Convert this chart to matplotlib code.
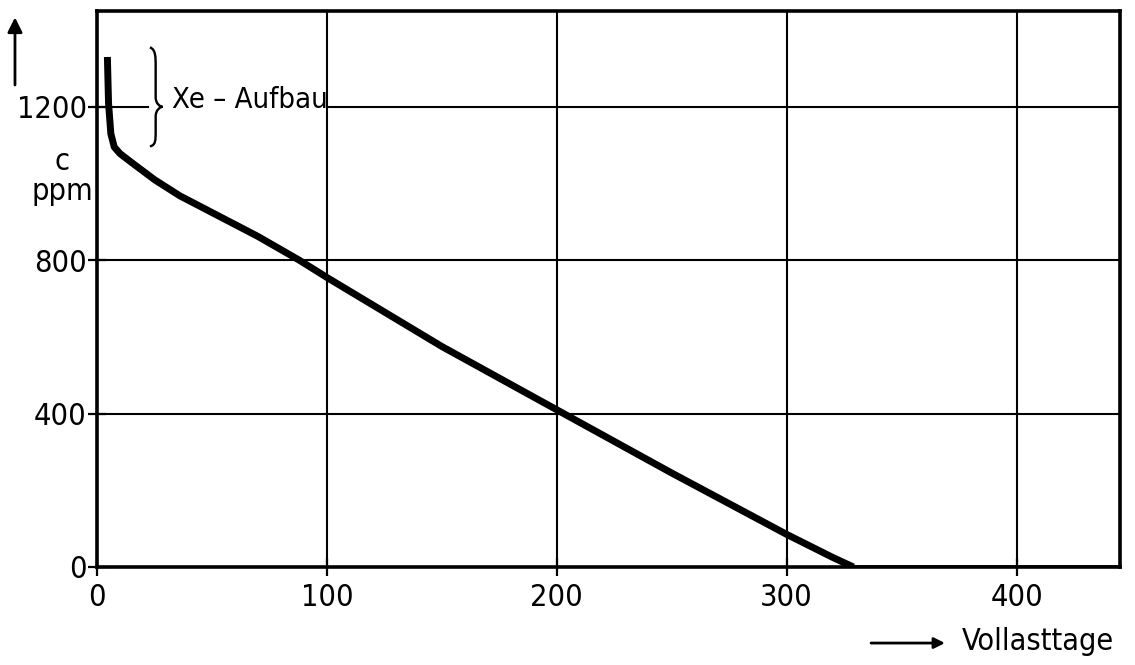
import matplotlib
matplotlib.use("Agg")
import matplotlib.pyplot as plt
from matplotlib.path import Path
from matplotlib.patches import PathPatch, FancyArrowPatch

# Boron concentration over full-load days
days = [4.5, 5, 6, 7.5, 10, 15, 25, 36, 53, 70, 88, 100, 150, 203, 250, 300, 320, 329]
conc = [1330, 1210, 1130, 1095, 1078, 1055, 1010, 968, 915, 862, 800, 755, 575, 400, 245, 85, 25, 0]

x_ticks = [0, 100, 200, 300, 400]
y_ticks = [0, 400, 800, 1200]
x_max, y_max = 445, 1450

plt.rcParams["font.family"] = ["DejaVu Sans"]
plt.rcParams["font.stretch"] = "condensed"
FS = 22

fig = plt.figure(figsize=(11.35, 6.65), dpi=100)
ax = fig.add_axes([0.0855, 0.1474, 0.9013, 0.8361])
ax.set_xlim(0, x_max)
ax.set_ylim(0, y_max)

for s in ax.spines.values():
    s.set_linewidth(2.6)
    s.set_color("black")

# grid lines; the 1200 line is interrupted by the annotation
for xv in x_ticks[1:]:
    ax.axvline(xv, color="black", lw=1.5, zorder=1)
for yv in y_ticks[1:]:
    if yv == 1200:
        ax.plot([0, 22], [yv, yv], color="black", lw=1.5, zorder=1)
        ax.plot([101, x_max], [yv, yv], color="black", lw=1.5, zorder=1)
    else:
        ax.axhline(yv, color="black", lw=1.5, zorder=1)

ax.plot(days, conc, color="black", lw=5, solid_capstyle="butt",
        solid_joinstyle="round", zorder=3)
ax.plot([days[-1], x_max], [0, 0], color="black", lw=2.6, zorder=3)

ax.set_xticks(x_ticks)
ax.set_yticks(y_ticks)
ax.tick_params(direction="inout", length=13, width=1.6, labelsize=FS, pad=1)
ax.tick_params(axis="x", pad=5)
for lab in ax.get_xticklabels() + ax.get_yticklabels():
    lab.set_fontstretch("condensed")

# curly brace marking the xenon build-up
xl, xm, xr = 23.0, 25.5, 28.5
yt, yc, yb = 1355, 1200, 1097
verts = [
    (xl, yt), (xm, yt - 5), (xm, yt - 25), (xm, yt - 50),
    (xm, yc + 25),
    (xm, yc + 8), (xr - 1, yc), (xr, yc),
    (xr - 1, yc), (xm, yc - 8), (xm, yc - 25),
    (xm, yb + 40),
    (xm, yb + 15), (xm, yb + 3), (xl, yb),
]
codes = [Path.MOVETO, Path.CURVE4, Path.CURVE4, Path.CURVE4,
         Path.LINETO,
         Path.CURVE4, Path.CURVE4, Path.CURVE4,
         Path.CURVE4, Path.CURVE4, Path.CURVE4,
         Path.LINETO,
         Path.CURVE4, Path.CURVE4, Path.CURVE4]
ax.add_patch(PathPatch(Path(verts, codes), fill=False, lw=1.7, color="black", zorder=4))
ax.text(32.5, 1218, "Xe – Aufbau", fontsize=21, fontstretch="condensed",
        va="center", ha="left", zorder=4)

# axis captions with arrows
fig.text(0.0546, 0.757, "c", fontsize=FS, fontstretch="condensed", ha="center", va="center")
fig.text(0.055, 0.712, "ppm", fontsize=FS, fontstretch="condensed", ha="center", va="center")
fig.patches.append(FancyArrowPatch((0.0132, 0.868), (0.0132, 0.978),
                                   transform=fig.transFigure, arrowstyle="-|>",
                                   mutation_scale=22, lw=2, color="black"))
fig.patches.append(FancyArrowPatch((0.765, 0.033), (0.835, 0.033),
                                   transform=fig.transFigure, arrowstyle="-|>",
                                   mutation_scale=16, lw=2, color="black"))
fig.text(0.847, 0.036, "Vollasttage", fontsize=FS, fontstretch="condensed",
         ha="left", va="center")

fig.savefig("out.png", dpi=100, facecolor="white")
